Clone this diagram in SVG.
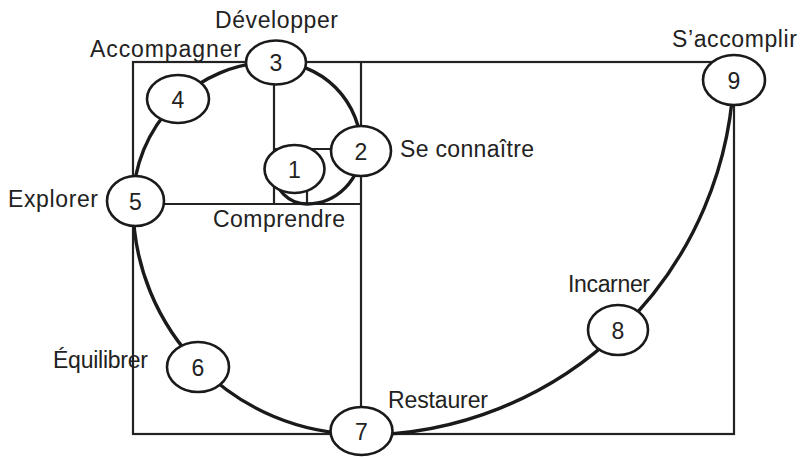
<svg xmlns="http://www.w3.org/2000/svg" width="802" height="457" viewBox="0 0 802 457">
<style>
.bg{fill:#ffffff}
.grid{fill:none;stroke:#222;stroke-width:2.2}
.spiral{fill:none;stroke:#1a1a1a;stroke-width:3.4;stroke-linecap:round}
.node ellipse{fill:#ffffff;stroke:#1a1a1a;stroke-width:2.6}
.num{font-family:"Liberation Sans",Arial,sans-serif;font-size:23px;fill:#222;text-anchor:middle}
.lbl{font-family:"Liberation Sans",Arial,sans-serif;font-size:23px;fill:#222}
</style>
<rect class="bg" x="0" y="0" width="802" height="457"/>
<g id="grid">
<rect class="grid" x="133" y="62" width="601" height="372"/>
<line class="grid" x1="361" y1="62" x2="361" y2="434"/>
<line class="grid" x1="133" y1="204" x2="361" y2="204"/>
<line class="grid" x1="274" y1="62" x2="274" y2="204"/>
<line class="grid" x1="274" y1="149" x2="361" y2="149"/>
<line class="grid" x1="307" y1="149" x2="307" y2="204"/>
</g>
<g id="connectors">
<path class="spiral" d="M734,62 A373,373 0 0 1 619.2,331.2"/>
<path class="spiral" d="M619.2,331.2 A373,373 0 0 1 361,435"/>
<path class="spiral" d="M361,434 A228,230 0 0 1 199.8,366.6"/>
<path class="spiral" d="M199.8,366.6 A228,230 0 0 1 133,204"/>
<path class="spiral" d="M133,204 A141,142 0 0 1 174.3,103.6"/>
<path class="spiral" d="M174.3,103.6 A141,142 0 0 1 274,62"/>
<path class="spiral" d="M274,62 A87,87 0 0 1 361,149"/>
<path class="spiral" d="M361,149 A54,55 0 0 1 307,204 A33,33 0 0 1 274,171"/>
</g>
<g id="node1" class="node"><ellipse cx="294.5" cy="169" rx="30" ry="24"/><text class="num" x="294.5" y="177.5">1</text></g>
<g id="node2" class="node"><ellipse cx="361" cy="151" rx="30" ry="25"/><text class="num" x="361" y="159.5">2</text></g>
<g id="node3" class="node"><ellipse cx="276" cy="62.5" rx="30" ry="22"/><text class="num" x="276" y="71">3</text></g>
<g id="node4" class="node"><ellipse cx="178" cy="99" rx="31" ry="24"/><text class="num" x="178" y="107.5">4</text></g>
<g id="node5" class="node"><ellipse cx="135.5" cy="201" rx="28.5" ry="25"/><text class="num" x="135.5" y="209.5">5</text></g>
<g id="node6" class="node"><ellipse cx="198" cy="367" rx="31" ry="25"/><text class="num" x="198" y="375.5">6</text></g>
<g id="node7" class="node"><ellipse cx="361.5" cy="431" rx="31" ry="24"/><text class="num" x="361.5" y="439.5">7</text></g>
<g id="node8" class="node"><ellipse cx="618" cy="330" rx="30" ry="25"/><text class="num" x="618" y="338.5">8</text></g>
<g id="node9" class="node"><ellipse cx="734" cy="80" rx="31" ry="25"/><text class="num" x="734" y="88.5">9</text></g>
<g id="labels">
<text class="lbl" x="215" y="28" textLength="123" lengthAdjust="spacing">Développer</text>
<text class="lbl" x="90" y="57" textLength="151" lengthAdjust="spacing">Accompagner</text>
<text class="lbl" x="672" y="47" textLength="125" lengthAdjust="spacing">S’accomplir</text>
<text class="lbl" x="400" y="157" textLength="134" lengthAdjust="spacing">Se connaître</text>
<text class="lbl" x="8" y="207" textLength="90" lengthAdjust="spacing">Explorer</text>
<text class="lbl" x="213" y="227" textLength="132" lengthAdjust="spacing">Comprendre</text>
<text class="lbl" x="53" y="368" textLength="95" lengthAdjust="spacing">Équilibrer</text>
<text class="lbl" x="388" y="408" textLength="100" lengthAdjust="spacing">Restaurer</text>
<text class="lbl" x="568" y="292" textLength="82" lengthAdjust="spacing">Incarner</text>
</g>
</svg>
